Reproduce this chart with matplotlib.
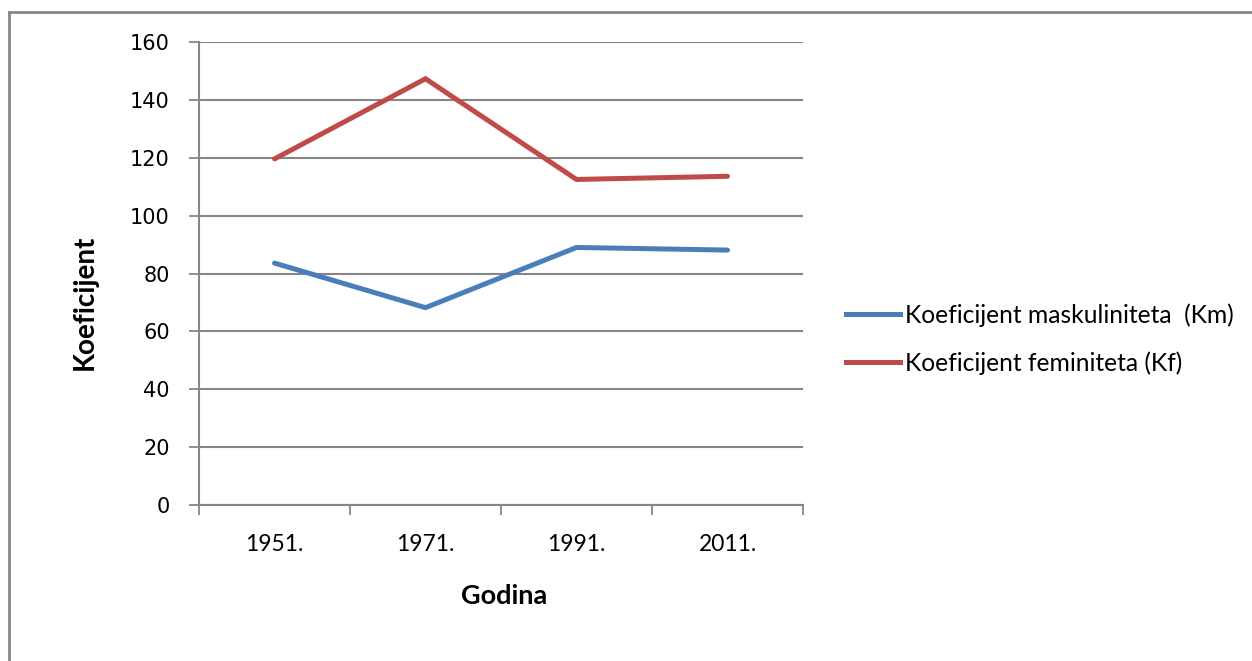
import matplotlib.pyplot as plt
from matplotlib.lines import Line2D

# --- Data ---
godine = ["1951.", "1971.", "1991.", "2011."]
km = [83.6, 68.2, 89.0, 88.1]
kf = [119.6, 147.3, 112.5, 113.6]

blue = "#4a7ebb"
red = "#be4b48"
grey = "#868686"

plt.rcParams["font.family"] = ["Lato", "DejaVu Sans"]

fig = plt.figure(figsize=(12.52, 6.61), dpi=100)
W, H = 1252, 661
# plot area in pixels: x 199..803, y 42..505
ax = fig.add_axes([199 / W, 1 - 505 / H, (803 - 199) / W, (505 - 42) / H])

x = list(range(len(godine)))
ax.plot(x, km, color=blue, lw=3.6, solid_capstyle="round", solid_joinstyle="miter",
        label="Koeficijent maskuliniteta  (Km)")
ax.plot(x, kf, color=red, lw=3.6, solid_capstyle="round", solid_joinstyle="miter",
        label="Koeficijent feminiteta (Kf)")

ax.set_xlim(-0.5, len(godine) - 0.5)
ax.set_ylim(0, 160)
ax.set_yticks(range(0, 161, 20))
ax.yaxis.grid(True, color=grey, lw=1.5)
ax.set_axisbelow(True)

# category boundaries as major ticks, labels on minor ticks
ax.set_xticks([i - 0.5 for i in range(len(godine) + 1)])
ax.set_xticklabels([])
ax.set_xticks(x, minor=True)
ax.set_xticklabels(godine, minor=True)
ax.tick_params(axis="x", which="major", length=7, width=1.3, color=grey, direction="out")
ax.tick_params(axis="x", which="minor", length=0, pad=21, labelsize=16.5)
ax.tick_params(axis="y", length=7, width=1.3, color=grey, pad=14, labelsize=15)
for t in ax.get_yticklabels():
    t.set_family(["DejaVu Sans"])

for s in ["top", "right"]:
    ax.spines[s].set_visible(False)
for s in ["left", "bottom"]:
    ax.spines[s].set_color(grey)
    ax.spines[s].set_linewidth(1.5)

ax.set_ylabel("Koeficijent", fontsize=20, fontweight="bold")
ax.yaxis.set_label_coords(85 / W, 1 - 302 / H, transform=fig.transFigure)
ax.set_xlabel("Godina", fontsize=19.5, fontweight="bold")
ax.xaxis.set_label_coords(504 / W, 1 - 596 / H, transform=fig.transFigure)
ax.xaxis.label.set_va("center")
ax.yaxis.label.set_va("center")

handles = [Line2D([], [], color=blue, lw=3.6), Line2D([], [], color=red, lw=3.6)]
fig.legend(handles, ["Koeficijent maskuliniteta  (Km)", "Koeficijent feminiteta (Kf)"],
           loc="center left", bbox_to_anchor=(836 / W, 1 - 339 / H), frameon=False,
           borderaxespad=0, fontsize=17.7, handlelength=2.2, handletextpad=0.2,
           labelspacing=1.0)

# outer chart border (top and left edges visible)
fig.add_artist(Line2D([8.5 / W, 8.5 / W], [0, 1 - 11.5 / H], transform=fig.transFigure,
                      color=grey, lw=2))
fig.add_artist(Line2D([8.5 / W, 1], [1 - 11.5 / H, 1 - 11.5 / H], transform=fig.transFigure,
                      color=grey, lw=2))

fig.savefig("out.png", dpi=100)
